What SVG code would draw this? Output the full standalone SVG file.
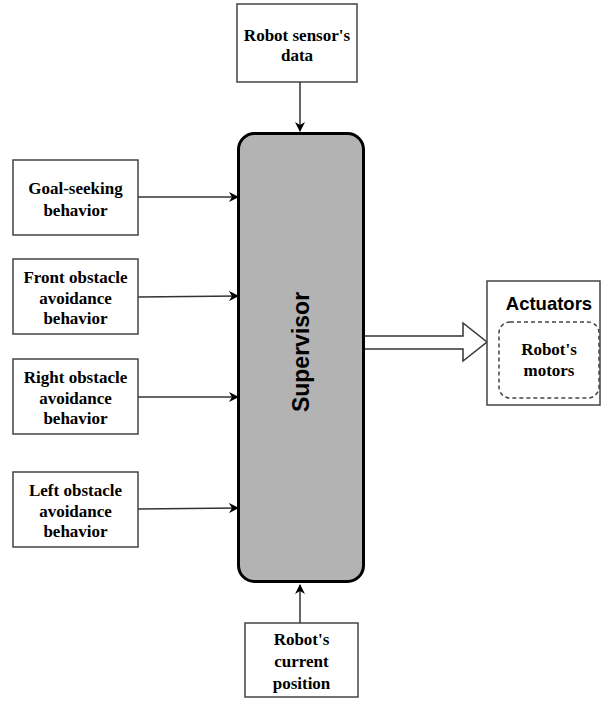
<svg xmlns="http://www.w3.org/2000/svg" width="601" height="702" viewBox="0 0 601 702">
  <defs>
    <marker id="arrow" viewBox="0 0 10 10" refX="9" refY="5" markerWidth="10" markerHeight="10" markerUnits="userSpaceOnUse" orient="auto">
      <path d="M0,0 L10,5 L0,10 L3,5 Z" fill="#000"/>
    </marker>
  </defs>
  <style>
    .box { fill: #fff; stroke: #444; stroke-width: 1.5; }
    .lbl { font-family: "Liberation Serif", "Times New Roman", serif; font-weight: bold; font-size: 17px; fill: #000; text-anchor: middle; }
    .conn { stroke: #333; stroke-width: 1.5; fill: none; marker-end: url(#arrow); }
  </style>
  <rect width="601" height="702" fill="#fff"/>

  <!-- connectors -->
  <g id="connectors">
    <line class="conn" x1="300" y1="82" x2="300" y2="131"/>
    <line class="conn" x1="138" y1="197" x2="238" y2="197"/>
    <line class="conn" x1="138" y1="297" x2="238" y2="296"/>
    <line class="conn" x1="138" y1="397" x2="238" y2="397"/>
    <line class="conn" x1="138" y1="509" x2="238" y2="508"/>
    <line class="conn" x1="300" y1="623" x2="300" y2="585"/>
    <!-- hollow block arrow to the actuators -->
    <path d="M364,336 L463,336 L463,323 L487,342 L463,361 L463,349 L364,349" fill="#fff" stroke="#333" stroke-width="1.5"/>
  </g>

  <g id="sensor-data">
    <rect class="box" x="237" y="4" width="120" height="78"/>
    <text class="lbl" x="297" y="41">Robot sensor's</text>
    <text class="lbl" x="297" y="61">data</text>
  </g>

  <g id="supervisor">
    <rect x="238.5" y="133.5" width="125" height="448" rx="16" ry="16" fill="#b3b3b3" stroke="#000" stroke-width="3"/>
    <text x="301" y="352" transform="rotate(-90 301 352)" font-family="Liberation Sans, Arial, sans-serif" font-weight="bold" font-size="23" text-anchor="middle" dominant-baseline="central" fill="#000">Supervisor</text>
  </g>

  <g id="goal-seeking">
    <rect class="box" x="13" y="160" width="125" height="75"/>
    <text class="lbl" x="75.5" y="194">Goal-seeking</text>
    <text class="lbl" x="75.5" y="216">behavior</text>
  </g>

  <g id="front-obstacle">
    <rect class="box" x="13" y="259" width="125" height="75"/>
    <text class="lbl" x="75.5" y="283">Front obstacle</text>
    <text class="lbl" x="75.5" y="303.5">avoidance</text>
    <text class="lbl" x="75.5" y="324">behavior</text>
  </g>

  <g id="right-obstacle">
    <rect class="box" x="13" y="359" width="125" height="75"/>
    <text class="lbl" x="75.5" y="383">Right obstacle</text>
    <text class="lbl" x="75.5" y="403.5">avoidance</text>
    <text class="lbl" x="75.5" y="424">behavior</text>
  </g>

  <g id="left-obstacle">
    <rect class="box" x="13" y="472" width="125" height="75"/>
    <text class="lbl" x="75.5" y="496">Left obstacle</text>
    <text class="lbl" x="75.5" y="516.5">avoidance</text>
    <text class="lbl" x="75.5" y="537">behavior</text>
  </g>

  <g id="actuators">
    <rect class="box" x="487" y="281" width="113" height="124"/>
    <text x="549" y="310" font-family="Liberation Sans, Arial, sans-serif" font-weight="bold" font-size="18.5" text-anchor="middle" fill="#000">Actuators</text>
    <rect x="499" y="322" width="100" height="76" rx="11" ry="11" fill="#fff" stroke="#444" stroke-width="1.5" stroke-dasharray="4,3"/>
    <text class="lbl" x="549" y="355">Robot's</text>
    <text class="lbl" x="549" y="376">motors</text>
  </g>

  <g id="current-position">
    <rect class="box" x="245" y="623" width="113" height="74"/>
    <text class="lbl" x="301.5" y="645">Robot's</text>
    <text class="lbl" x="301.5" y="667">current</text>
    <text class="lbl" x="301.5" y="689">position</text>
  </g>
</svg>
